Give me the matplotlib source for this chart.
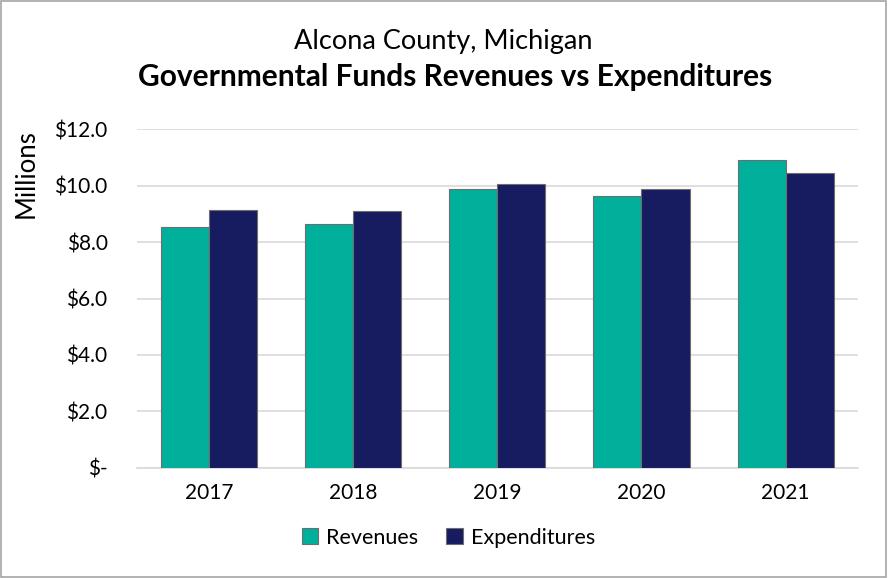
import matplotlib
matplotlib.use("Agg")
import matplotlib.pyplot as plt
import numpy as np
from matplotlib.patches import Rectangle

years = ["2017", "2018", "2019", "2020", "2021"]
revenues = [8.55, 8.65, 9.89, 9.65, 10.91]
expenditures = [9.13, 9.09, 10.08, 9.87, 10.47]
yticks = [0, 2, 4, 6, 8, 10, 12]
ytick_labels = ["$-", "$2.0", "$4.0", "$6.0", "$8.0", "$10.0", "$12.0"]

plt.rcParams['font.family'] = ['Lato', 'DejaVu Sans']

fig = plt.figure(figsize=(8.88, 5.78), dpi=100)
ax = fig.add_axes([0.154, 0.191, 0.812, 0.585])

x = np.arange(len(years))
w = 0.333
teal = "#00B09B"
navy = "#161C5F"
ax.bar(x - w/2, revenues, w, color=teal, edgecolor="#6e6e6e", linewidth=0.8, label="Revenues", zorder=3)
ax.bar(x + w/2, expenditures, w, color=navy, edgecolor="#6e6e6e", linewidth=0.8, label="Expenditures", zorder=3)

ax.set_xlim(-0.5, len(years) - 0.5)
ax.set_ylim(0, 12)
ax.set_yticks(yticks)
ax.set_yticklabels(ytick_labels, fontsize=15)
ax.set_xticks(x)
ax.set_xticklabels(years, fontsize=15)
ax.tick_params(axis='y', length=0, pad=21)
ax.tick_params(axis='x', length=0, pad=11)
ax.yaxis.grid(True, color="#d9d9d9", linewidth=1.2, zorder=0)
for s in ["top", "right", "left"]:
    ax.spines[s].set_visible(False)
ax.spines["bottom"].set_color("#d9d9d9")
ax.spines["bottom"].set_linewidth(1.2)

fig.text(0.499, 0.928, "Alcona County, Michigan", ha="center", va="center", fontsize=19.5)
fig.text(0.513, 0.866, "Governmental Funds Revenues vs Expenditures", ha="center", va="center",
         fontsize=21.5, fontweight="bold")
fig.text(0.029, 0.70, "Millions", rotation=90, ha="center", va="center", fontsize=18.5)

leg = fig.legend(loc="center", bbox_to_anchor=(0.505, 0.07), ncol=2, frameon=False,
                 fontsize=15.5, handlelength=0.75, handleheight=0.75, columnspacing=1.3, handletextpad=0.4)

fig.patches.append(Rectangle((0.001, 0.002), 0.997, 0.996, transform=fig.transFigure,
                             fill=False, edgecolor="#a6a6a6", linewidth=1.2))

fig.savefig("out.png", dpi=100)
